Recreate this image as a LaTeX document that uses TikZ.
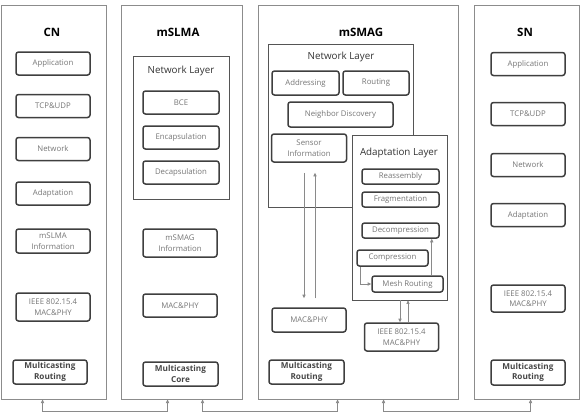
\documentclass[tikz,border=0pt]{standalone}
\usepackage{fontspec}
\setmainfont{Open Sans}
\usetikzlibrary{arrows.meta,positioning}
\definecolor{boxline}{HTML}{3F3F3F}
\definecolor{frameline}{HTML}{8C8C8C}
\definecolor{layerline}{HTML}{555555}
\definecolor{softtext}{HTML}{767676}
\definecolor{darktext}{HTML}{474747}
\definecolor{linkgray}{HTML}{8A8A8A}
\tikzset{
  >={Triangle[length=3.6pt,width=3.2pt]},
  % spalten
  col/.style={draw=frameline,line width=0.9pt,inner sep=0pt,minimum height=394pt},
  ttl/.style={font=\fontsize{11.5}{13}\selectfont\bfseries,text=black,inner sep=0pt},
  grp/.style={draw=layerline,line width=0.7pt,fill=white,inner sep=0pt},
  grpt/.style={font=\fontsize{9.8}{11}\selectfont,text=black!80,inner sep=0pt},
  % bausteine
  blk/.style={draw=boxline,line width=1.5pt,rounded corners=2.5pt,fill=white,
              minimum width=74pt,minimum height=23pt,inner sep=1pt,align=center,
              font=\fontsize{7.8}{10.5}\selectfont,text=softtext},
  blks/.style={blk,minimum height=15pt},
  mc/.style={blk,font=\fontsize{8.2}{10.5}\selectfont\bfseries,text=darktext},
  flow/.style={->,draw=linkgray,line width=0.7pt},
  link/.style={<->,draw=linkgray,line width=0.7pt},
}

\begin{document}
\begin{tikzpicture}[x=1pt,y=-1pt]
\useasboundingbox (0,0) rectangle (581,416);
  % spalten
  \node[col,minimum width=105pt] (cn) at (53.5,202) {};
  \node[col,minimum width=121pt] (slma) at (181.5,202) {};
  \node[col,minimum width=200pt] (smag) at (358,202) {};
  \node[col,minimum width=105pt] (sn) at (526.5,202) {};
  \node[ttl] (cnt) at (52,32) {CN};
  \node[ttl] (slmat) at (178,32) {mSLMA};
  \node[ttl] (smagt) at (361,32) {mSMAG};
  \node[ttl] (snt) at (525,32) {SN};
  % CN
  \node[blk] (cnapp) at (53,63.5) {Application};
  \node[blk] (cntcp) at (53,106) {TCP\&UDP};
  \node[blk] (cnnet) at (53,149) {Network};
  \node[blk] (cnada) at (53,193.5) {Adaptation};
  \node[blk,minimum height=24pt] (cninfo) at (53,241) {mSLMA\\Information};
  \node[blk,minimum height=28pt] (cnieee) at (53,307) {IEEE 802.15.4\\MAC\&PHY};
  \node[mc,minimum height=24pt] (cnmc) at (50,372) {Multicasting\\Routing};
  % mSLMA
  \node[grp,minimum width=96pt,minimum height=143pt] (slmanl) at (181,127.5) {};
  \node[grpt] (slmanlt) at (181,71) {Network Layer};
  \node[blk,minimum width=76pt] (bce) at (181,102.5) {BCE};
  \node[blk,minimum width=76pt] (enc) at (181,137.5) {Encapsulation};
  \node[blk,minimum width=76pt] (dec) at (181,172.5) {Decapsulation};
  \node[blk,minimum height=28pt] (slmainfo) at (180,243) {mSMAG\\Information};
  \node[blk] (slmamac) at (180,305.5) {MAC\&PHY};
  \node[mc,minimum width=75pt,minimum height=24pt] (slmamc) at (180.5,374) {Multicasting\\Core};
  % mSMAG
  \node[grp,minimum width=145pt,minimum height=163pt] (smagnl) at (340.5,125.5) {};
  \node[grpt] (smagnlt) at (341,57) {Network Layer};
  \node[blk,minimum width=67pt,minimum height=24pt] (addr) at (305.5,83) {Addressing};
  \node[blk,minimum width=66pt,minimum height=24pt] (rout) at (376,83) {Routing};
  \node[blk,minimum width=105pt,minimum height=25pt] (nd) at (340.5,114.5) {Neighbor Discovery};
  \node[blk,minimum width=75pt,minimum height=28pt] (sens) at (309,148) {Sensor\\Information};
  \node[grp,minimum width=95pt,minimum height=165pt] (adl) at (399.5,217.5) {};
  \node[grpt] (adlt) at (399,153) {Adaptation Layer};
  \node[blks,minimum width=77pt] (reas) at (400.5,176.5) {Reassembly};
  \node[blks,minimum width=77pt] (frag) at (400.5,199.5) {Fragmentation};
  \node[blks,minimum width=77pt] (decomp) at (400.5,230.5) {Decompression};
  \node[blks,minimum width=71pt,minimum height=16pt] (comp) at (392.5,258) {Compression};
  \node[blks,minimum width=71pt,minimum height=16pt] (mesh) at (407.5,284) {Mesh Routing};
  \node[blk,minimum height=24pt] (smagmac) at (309,320) {MAC\&PHY};
  \node[blk,minimum height=28pt] (smagieee) at (401.5,337) {IEEE 802.15.4\\MAC\&PHY};
  \node[mc,minimum width=75pt,minimum height=24pt] (smagmc) at (306.5,372) {Multicasting\\Routing};
  % SN
  \node[blk] (snapp) at (528,64) {Application};
  \node[blk] (sntcp) at (528,114) {TCP\&UDP};
  \node[blk] (snnet) at (528,165) {Network};
  \node[blk] (snada) at (528,215) {Adaptation};
  \node[blk,minimum height=27pt] (snieee) at (528,298.5) {IEEE 802.15.4\\MAC\&PHY};
  \node[mc,minimum height=25pt] (snmc) at (528,372.5) {Multicasting\\Routing};
  % innere pfeile
  \draw[flow] ([shift={(-5,10)}]sens.south) -- ([shift={(-5,-9)}]smagmac.north);
  \draw[flow] ([shift={(6,-9)}]smagmac.north) -- ([shift={(6,10)}]sens.south);
  \draw[flow] ([xshift=0.5pt]adl.south) -- ([xshift=-1.5pt]smagieee.north);
  \draw[flow] ([xshift=6.5pt]smagieee.north) -- ([xshift=8.5pt]adl.south);
  \draw[flow] ([xshift=4pt]comp.south west) |- (mesh.west);
  \draw[flow] ([xshift=-12pt]mesh.north east) -- ([xshift=-8pt]decomp.south east);
  % verbindungen unten
  \draw[link] ([xshift=42pt]cn.south west) -- ++(0,12) -| ([xshift=47pt]slma.south west);
  \draw[link] ([xshift=82pt]slma.south west) -- ++(0,12) -| ([xshift=80pt]smag.south west);
  \draw[link] ([xshift=126pt]smag.south west) -- ++(0,12) -| ([xshift=57pt]sn.south west);
\end{tikzpicture}
\end{document}
